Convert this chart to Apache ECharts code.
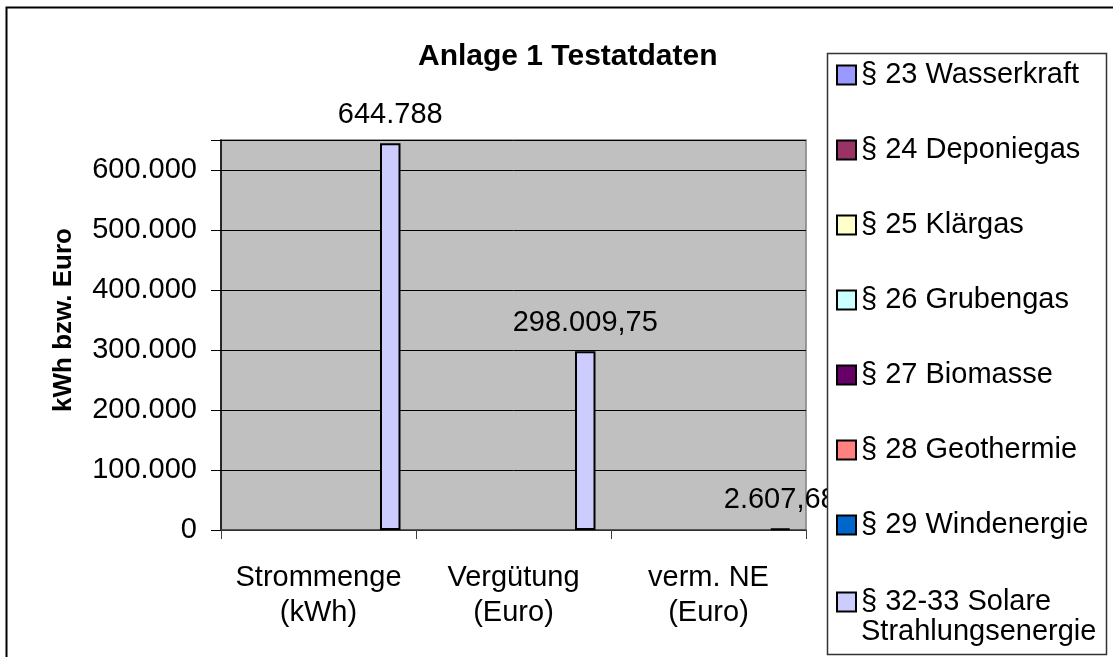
<!DOCTYPE html>
<html>
<head>
<meta charset="utf-8">
<script src="https://cdn.jsdelivr.net/npm/echarts@6/dist/echarts.min.js"></script>
<style>
html,body{margin:0;padding:0;background:#fff;}
#c{width:1113px;height:657px;}
</style>
</head>
<body>
<div id="c"></div>
<script>
const categories = ['Strommenge\n(kWh)', 'Vergütung\n(Euro)', 'verm. NE\n(Euro)'];
const seriesNames = ['§ 23 Wasserkraft', '§ 24 Deponiegas', '§ 25 Klärgas', '§ 26 Grubengas', '§ 27 Biomasse', '§ 28 Geothermie', '§ 29 Windenergie', '§ 32-33 Solare Strahlungsenergie'];
const wasserkraft = [null, null, null];
const deponiegas = [null, null, null];
const klaergas = [null, null, null];
const grubengas = [null, null, null];
const biomasse = [null, null, null];
const geothermie = [null, null, null];
const windenergie = [null, null, null];
const solar = [644788, 298009.75, 2607.68];
const yTicks = [0, 100000, 200000, 300000, 400000, 500000, 600000];
const colors = ['#9999FF', '#993366', '#FFFFCC', '#CCFFFF', '#660066', '#FF8080', '#0066CC', '#CCCCFF'];

const FONT = '"Liberation Sans", Arial, sans-serif';
const FS = 29;

function de(v) {
  const neg = v < 0; v = Math.abs(v);
  let s = Number.isInteger(v) ? String(v) : v.toFixed(2);
  let parts = s.split('.');
  let i = parts[0].replace(/\B(?=(\d{3})+(?!\d))/g, '.');
  return (neg ? '-' : '') + i + (parts[1] ? ',' + parts[1] : '');
}

const allData = [wasserkraft, deponiegas, klaergas, grubengas, biomasse, geothermie, windenergie, solar];

const series = allData.map((d, k) => ({
  name: seriesNames[k],
  type: 'bar',
  data: d,
  barWidth: 20.5,
  barGap: '0%',
  itemStyle: { color: colors[k], borderColor: '#000', borderWidth: 2 },
  label: {
    show: k === 7,
    position: 'top',
    distance: 14,
    color: '#000',
    fontSize: FS,
    fontFamily: FONT,
    formatter: p => de(p.value)
  }
}));

const chart = echarts.init(document.getElementById('c'));
chart.setOption({
  animation: false,
  backgroundColor: '#fff',
  title: {
    text: 'Anlage 1 Testatdaten',
    left: 413, top: 37,
    textStyle: { fontSize: 30, fontWeight: 'bold', color: '#000', fontFamily: FONT }
  },
  grid: {
    left: 221, top: 140, right: 307, bottom: 127,
    show: true, backgroundColor: '#C0C0C0', borderColor: '#808080', borderWidth: 1.5
  },
  legend: [{
    data: seriesNames.slice(0, 7),
    orient: 'vertical', left: 836, top: 60,
    itemWidth: 19, itemHeight: 19, itemGap: 45, padding: 0,
    icon: 'rect', selectedMode: false,
    textStyle: { fontSize: FS, lineHeight: 30, color: '#000', fontFamily: FONT }
  }, {
    data: [seriesNames[7]],
    orient: 'vertical', left: 836, top: 557,
    itemWidth: 19, itemHeight: 19, padding: 0,
    icon: 'rect', selectedMode: false,
    formatter: n => '\n' + n.replace(' Strahlungsenergie', '\nStrahlungsenergie'),
    textStyle: { fontSize: FS, lineHeight: 30, color: '#000', fontFamily: FONT }
  }],
  xAxis: {
    type: 'category', data: categories,
    axisLine: { lineStyle: { color: '#404040', width: 1.5 } },
    axisTick: { show: true, length: 9, lineStyle: { color: '#404040' } },
    axisLabel: { color: '#000', fontSize: FS, lineHeight: 35, margin: 30, fontFamily: FONT, interval: 0 }
  },
  yAxis: {
    type: 'value', min: 0, max: 650000, interval: 100000,
    name: 'kWh bzw. Euro', nameLocation: 'middle', nameGap: 144, nameRotate: 90,
    nameTextStyle: { fontSize: 26, fontWeight: 'bold', color: '#000', fontFamily: FONT, padding: [0, 0, 0, 30] },
    axisLine: { show: true, lineStyle: { color: '#000', width: 1.5 } },
    axisTick: { show: true, length: 10, lineStyle: { color: '#000' } },
    splitLine: { show: true, lineStyle: { color: '#000', width: 1 } },
    axisLabel: {
      color: '#000', fontSize: FS, margin: 24, fontFamily: FONT,
      formatter: v => (yTicks.indexOf(v) >= 0 ? de(v) : '')
    }
  },
  graphic: [
    { type: 'rect', shape: { x: 6.5, y: 7.5, width: 1120, height: 700 }, style: { fill: 'none', stroke: '#000', lineWidth: 2 }, z: 10, silent: true },
    { type: 'rect', shape: { x: 827.5, y: 53.5, width: 279, height: 601 }, style: { fill: '#fff', stroke: '#333', lineWidth: 1.5 }, z: 3, silent: true }
  ],
  series: series
});
</script>
</body>
</html>
